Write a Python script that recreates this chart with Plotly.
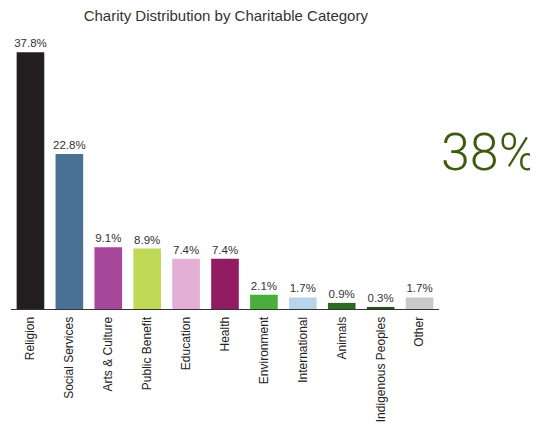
import plotly.graph_objects as go

categories = ["Religion", "Social Services", "Arts & Culture", "Public Benefit", "Education",
              "Health", "Environment", "International", "Animals", "Indigenous Peoples", "Other"]
values = [37.8, 22.8, 9.1, 8.9, 7.4, 7.4, 2.1, 1.7, 0.9, 0.3, 1.7]
labels = ["37.8%", "22.8%", "9.1%", "8.9%", "7.4%", "7.4%", "2.1%", "1.7%", "0.9%", "0.3%", "1.7%"]
colors = ["#231f20", "#4b7294", "#a6479b", "#c0d957", "#e3afd4", "#911c62",
          "#4aae3c", "#b7d4ea", "#2c6a22", "#1f531a", "#c9c9c9"]
title = "Charity Distribution by Charitable Category"
big_text = "38%"

fig = go.Figure(go.Bar(
    x=categories, y=values, text=labels, textposition="outside",
    constraintext="none",
    marker=dict(color=colors, line=dict(width=0)),
    textfont=dict(family="Liberation Sans, Arial, sans-serif", size=11.5, color="#333333"),
    cliponaxis=False,
))

fig.update_layout(
    width=530, height=417, autosize=False,
    margin=dict(l=3, r=99, t=32, b=116),
    plot_bgcolor="white", paper_bgcolor="white",
    showlegend=False, bargap=0.29,
    title=dict(text=title, x=0.411, xanchor="center", y=0.981, yanchor="middle",
               font=dict(family="Liberation Sans, Arial, sans-serif", size=15, color="#333333")),
    xaxis=dict(showline=True, linecolor="#333333", linewidth=1, ticks="", tickangle=-90,
               automargin=False, ticklabelstandoff=2,
               tickfont=dict(family="Liberation Sans, Arial, sans-serif", size=12, color="#222222"),
               showgrid=False, zeroline=False),
    yaxis=dict(range=[0, 39.6], visible=False, showgrid=False, zeroline=False),
    annotations=[dict(text=big_text, xref="paper", yref="paper", x=1.0, xanchor="left",
                      xshift=1, y=0.58, yanchor="middle", showarrow=False, borderpad=0,
                      font=dict(family="Roboto, sans-serif", size=52, weight=300,
                                color="#3d5a0f"))],
)

fig.write_html("out.html")
